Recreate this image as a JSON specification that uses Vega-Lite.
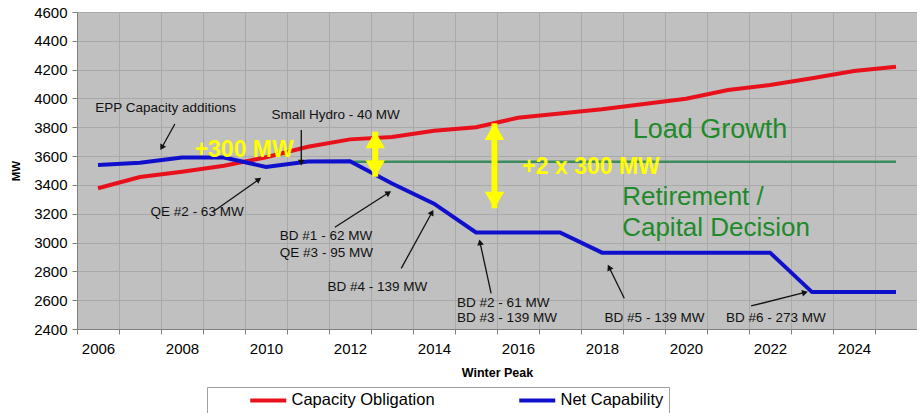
{
  "$schema": "https://vega.github.io/schema/vega-lite/v6.json",
  "width": 840,
  "height": 317,
  "autosize": {"type": "none"},
  "padding": {"left": 77, "top": 12, "right": 0, "bottom": 84},
  "background": "white",
  "config": {
    "font": "Liberation Sans",
    "view": {"fill": "#c0c0c0", "stroke": "#858585", "strokeWidth": 1},
    "axis": {"labelOverlap": false, "labelFlush": false}
  },
  "datasets": {
    "series": [
      {"x": 2006, "y": 3377, "series": "Capacity Obligation"},
      {"x": 2007, "y": 3455, "series": "Capacity Obligation"},
      {"x": 2008, "y": 3492, "series": "Capacity Obligation"},
      {"x": 2009, "y": 3533, "series": "Capacity Obligation"},
      {"x": 2010, "y": 3592, "series": "Capacity Obligation"},
      {"x": 2011, "y": 3665, "series": "Capacity Obligation"},
      {"x": 2012, "y": 3716, "series": "Capacity Obligation"},
      {"x": 2013, "y": 3733, "series": "Capacity Obligation"},
      {"x": 2014, "y": 3776, "series": "Capacity Obligation"},
      {"x": 2015, "y": 3800, "series": "Capacity Obligation"},
      {"x": 2016, "y": 3866, "series": "Capacity Obligation"},
      {"x": 2017, "y": 3895, "series": "Capacity Obligation"},
      {"x": 2018, "y": 3925, "series": "Capacity Obligation"},
      {"x": 2019, "y": 3962, "series": "Capacity Obligation"},
      {"x": 2020, "y": 3998, "series": "Capacity Obligation"},
      {"x": 2021, "y": 4058, "series": "Capacity Obligation"},
      {"x": 2022, "y": 4093, "series": "Capacity Obligation"},
      {"x": 2023, "y": 4140, "series": "Capacity Obligation"},
      {"x": 2024, "y": 4190, "series": "Capacity Obligation"},
      {"x": 2025, "y": 4220, "series": "Capacity Obligation"},
      {"x": 2006, "y": 3538, "series": "Net Capability"},
      {"x": 2007, "y": 3554, "series": "Net Capability"},
      {"x": 2008, "y": 3590, "series": "Net Capability"},
      {"x": 2009, "y": 3590, "series": "Net Capability"},
      {"x": 2010, "y": 3525, "series": "Net Capability"},
      {"x": 2011, "y": 3562, "series": "Net Capability"},
      {"x": 2012, "y": 3565, "series": "Net Capability"},
      {"x": 2013, "y": 3410, "series": "Net Capability"},
      {"x": 2014, "y": 3270, "series": "Net Capability"},
      {"x": 2015, "y": 3070, "series": "Net Capability"},
      {"x": 2016, "y": 3070, "series": "Net Capability"},
      {"x": 2017, "y": 3070, "series": "Net Capability"},
      {"x": 2018, "y": 2930, "series": "Net Capability"},
      {"x": 2019, "y": 2930, "series": "Net Capability"},
      {"x": 2020, "y": 2930, "series": "Net Capability"},
      {"x": 2021, "y": 2930, "series": "Net Capability"},
      {"x": 2022, "y": 2930, "series": "Net Capability"},
      {"x": 2023, "y": 2656, "series": "Net Capability"},
      {"x": 2024, "y": 2656, "series": "Net Capability"},
      {"x": 2025, "y": 2656, "series": "Net Capability"}
    ],
    "green": [
      {"x": 2011, "y": 3560},
      {"x": 2025, "y": 3560}
    ],
    "arrows": [
      {"tx": 2007.83, "ty": 3823, "x": 2007.53, "y": 3665},
      {"tx": 2010.84, "ty": 3781, "x": 2010.84, "y": 3561},
      {"tx": 2008.74, "ty": 3214, "x": 2009.81, "y": 3434},
      {"tx": 2011.64, "ty": 3106, "x": 2012.90, "y": 3342},
      {"tx": 2013.22, "ty": 2821, "x": 2013.94, "y": 3203},
      {"tx": 2015.36, "ty": 2648, "x": 2015.10, "y": 2995},
      {"tx": 2018.53, "ty": 2613, "x": 2018.18, "y": 2821},
      {"tx": 2021.55, "ty": 2560, "x": 2022.81, "y": 2652}
    ],
    "yellow": [
      {"x": 2012.6, "y": 3769, "y2": 3457},
      {"x": 2015.44, "y": 3827, "y2": 3238}
    ],
    "yellowHeads": [
      {"x": 2012.6, "y": 3713, "dir": "up"},
      {"x": 2012.6, "y": 3513, "dir": "down"},
      {"x": 2015.44, "y": 3771, "dir": "up"},
      {"x": 2015.44, "y": 3294, "dir": "down"}
    ],
    "notes": [
      {"x": 2007.61, "y": 3931, "text": "EPP Capacity additions", "align": "center"},
      {"x": 2011.66, "y": 3885, "text": "Small Hydro - 40 MW", "align": "center"},
      {"x": 2008.36, "y": 3214, "text": "QE #2 - 63 MW", "align": "center"},
      {"x": 2010.33, "y": 3045, "text": "BD #1 - 62 MW", "align": "left"},
      {"x": 2010.33, "y": 2930, "text": "QE #3 - 95 MW", "align": "left"},
      {"x": 2012.65, "y": 2689, "text": "BD #4 - 139 MW", "align": "center"},
      {"x": 2014.55, "y": 2583, "text": "BD #2 - 61 MW", "align": "left"},
      {"x": 2014.55, "y": 2478, "text": "BD #3 - 139 MW", "align": "left"},
      {"x": 2019.25, "y": 2478, "text": "BD #5 - 139 MW", "align": "center"},
      {"x": 2022.14, "y": 2478, "text": "BD #6 - 273 MW", "align": "center"}
    ],
    "yellowText": [
      {"x": 2009.48, "y": 3642, "text": "+300 MW"},
      {"x": 2017.74, "y": 3526, "text": "+2 x 300 MW"}
    ],
    "greenText": [
      {"x": 2020.57, "y": 3781, "text": "Load Growth", "align": "center"},
      {"x": 2018.48, "y": 3318, "text": "Retirement /", "align": "left"},
      {"x": 2018.48, "y": 3099, "text": "Capital Decision", "align": "left"}
    ]
  },
  "encoding": {
    "x": {
      "field": "x",
      "type": "quantitative",
      "scale": {"domain": [2005.5, 2025.5], "nice": false, "zero": false},
      "axis": {
        "values": [2005.5, 2006.5, 2007.5, 2008.5, 2009.5, 2010.5, 2011.5, 2012.5, 2013.5, 2014.5, 2015.5, 2016.5, 2017.5, 2018.5, 2019.5, 2020.5, 2021.5, 2022.5, 2023.5, 2024.5, 2025.5],
        "labelExpr": "((datum.value + 0.5) % 2 == 0 && datum.value < 2025) ? '' + (datum.value + 0.5) : ''",
        "labelOffset": 21,
        "labelFlush": false,
        "labelOverlap": false,
        "labelFontSize": 15,
        "labelColor": "#000",
        "labelPadding": 7,
        "tickSize": 5,
        "tickColor": "#808080",
        "domainColor": "#808080",
        "grid": true,
        "gridColor": "#a9a9a9",
        "gridWidth": 1,
        "title": "Winter Peak",
        "titleFontSize": 12.5,
        "titleFontWeight": "bold",
        "titleColor": "#000",
        "titlePadding": 10
      }
    },
    "y": {
      "field": "y",
      "type": "quantitative",
      "scale": {"domain": [2400, 4600], "nice": false, "zero": false},
      "axis": {
        "values": [2400, 2600, 2800, 3000, 3200, 3400, 3600, 3800, 4000, 4200, 4400, 4600],
        "format": "d",
        "labelOverlap": false,
        "labelFlush": false,
        "labelFontSize": 15,
        "labelColor": "#000",
        "labelPadding": 5,
        "tickSize": 5,
        "tickColor": "#808080",
        "domainColor": "#808080",
        "grid": true,
        "gridColor": "#a9a9a9",
        "gridWidth": 1,
        "title": "MW",
        "titleFontSize": 11.5,
        "titleFontWeight": "bold",
        "titleColor": "#000",
        "titlePadding": 12
      }
    }
  },
  "layer": [
    {
      "data": {"name": "green"},
      "mark": {"type": "line", "color": "#3d8c5f", "strokeWidth": 2.5}
    },
    {
      "data": {"name": "series"},
      "mark": {"type": "line", "strokeWidth": 4},
      "encoding": {
        "color": {
          "field": "series",
          "type": "nominal",
          "scale": {"domain": ["Capacity Obligation", "Net Capability"], "range": ["#e8101a", "#1010cc"]},
          "legend": {
            "title": null,
            "orient": "none",
            "legendX": 130,
            "legendY": 375,
            "direction": "horizontal",
            "symbolType": "M-3,0H3",
            "symbolStrokeWidth": 4,
            "symbolSize": 144,
            "labelFontSize": 16.5,
            "labelColor": "#000",
            "labelOffset": 15,
            "columnPadding": 46,
            "padding": 5,
            "symbolOffset": 48,
            "strokeColor": "#a0a0a0",
            "fillColor": "#ffffff"
          }
        }
      }
    },
    {
      "data": {"name": "arrows"},
      "mark": {"type": "rule", "color": "#111", "strokeWidth": 1.3},
      "encoding": {
        "x2": {"field": "tx"},
        "y2": {"field": "ty"}
      }
    },
    {
      "data": {"name": "arrows"},
      "transform": [
        {"calculate": "atan2((datum.x - datum.tx) * 42.05, (datum.y - datum.ty) * 0.14409) * 180 / PI", "as": "angle"}
      ],
      "mark": {"type": "point", "shape": "triangle", "filled": true, "color": "#111", "size": 45, "opacity": 1},
      "encoding": {
        "angle": {"field": "angle", "type": "quantitative", "scale": null}
      }
    },
    {
      "data": {"name": "yellow"},
      "mark": {"type": "rule", "color": "#ffff00", "strokeWidth": 6},
      "encoding": {
        "y2": {"field": "y2"}
      }
    },
    {
      "data": {"name": "yellowHeads"},
      "mark": {"type": "point", "filled": true, "color": "#ffff00", "size": 380, "opacity": 1},
      "encoding": {
        "shape": {
          "field": "dir",
          "type": "nominal",
          "scale": {"domain": ["up", "down"], "range": ["triangle-up", "triangle-down"]},
          "legend": null
        }
      }
    },
    {
      "data": {"name": "notes"},
      "transform": [{"filter": "datum.align == 'center'"}],
      "mark": {"type": "text", "fontSize": 13.5, "color": "#111", "baseline": "middle", "align": "center"},
      "encoding": {
        "text": {"field": "text"}
      }
    },
    {
      "data": {"name": "notes"},
      "transform": [{"filter": "datum.align == 'left'"}],
      "mark": {"type": "text", "fontSize": 13.5, "color": "#111", "baseline": "middle", "align": "left"},
      "encoding": {
        "text": {"field": "text"}
      }
    },
    {
      "data": {"name": "yellowText"},
      "mark": {"type": "text", "fontSize": 23, "fontWeight": "bold", "color": "#ffff00", "baseline": "middle"},
      "encoding": {
        "text": {"field": "text"}
      }
    },
    {
      "data": {"name": "greenText"},
      "transform": [{"filter": "datum.align == 'center'"}],
      "mark": {"type": "text", "fontSize": 27, "color": "#1e8a2a", "baseline": "middle", "align": "center"},
      "encoding": {
        "text": {"field": "text"}
      }
    },
    {
      "data": {"name": "greenText"},
      "transform": [{"filter": "datum.align == 'left'"}],
      "mark": {"type": "text", "fontSize": 26, "color": "#1e8a2a", "baseline": "middle", "align": "left"},
      "encoding": {
        "text": {"field": "text"}
      }
    }
  ]
}
